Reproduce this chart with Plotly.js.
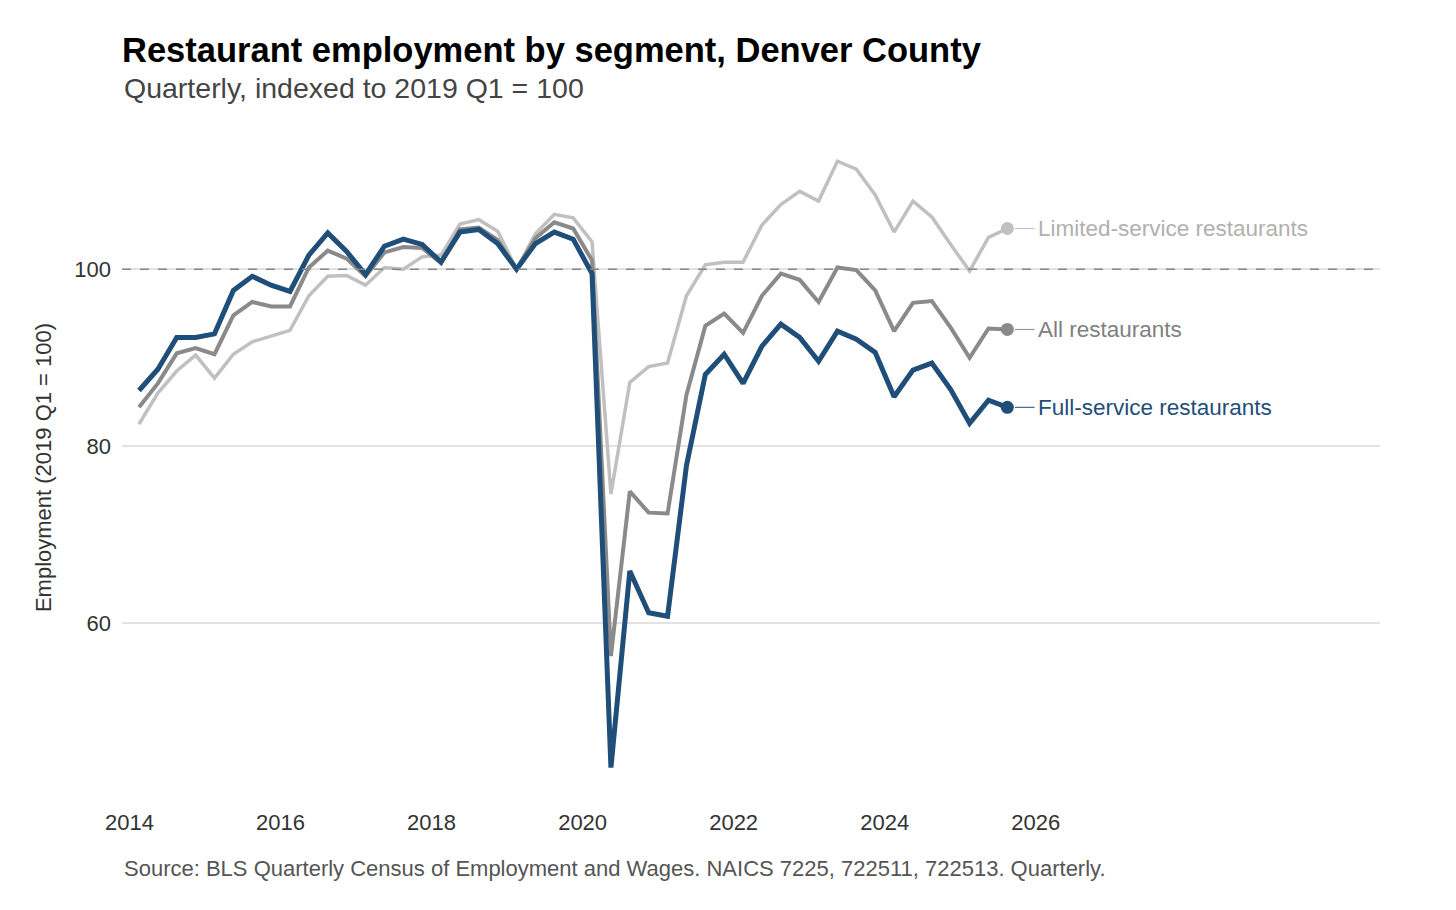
<!DOCTYPE html>
<html>
<head>
<meta charset="utf-8">
<script src="https://cdn.plot.ly/plotly-3.0.1.min.js"></script>
<style>html,body{margin:0;padding:0;background:#fff}#chart{width:1456px;height:910px}</style>
</head>
<body>
<div id="chart"></div>
<script>
// quarters from 2014 Q1 to 2025 Q3, plotted at mid-quarter
var startYear = 2014;
var nQuarters = 47;

var fullService = [86.3, 88.7, 92.3, 92.3, 92.7, 97.6, 99.2, 98.2, 97.5, 101.6, 104.1, 102.0,
  99.4, 102.6, 103.4, 102.8, 100.8, 104.2, 104.5, 102.9, 100.0, 102.9, 104.2, 103.4,
  99.5, 43.7, 65.9, 61.2, 60.8, 77.8, 88.1, 90.4, 87.1, 91.3, 93.8, 92.3,
  89.6, 93.0, 92.1, 90.6, 85.6, 88.6, 89.4, 86.4, 82.6, 85.2, 84.4];
var allRest = [84.4, 87.1, 90.5, 91.1, 90.4, 94.8, 96.3, 95.8, 95.8, 100.2, 102.1, 101.2,
  99.2, 101.9, 102.5, 102.4, 100.7, 104.5, 104.7, 103.3, 100.0, 103.5, 105.3, 104.6,
  101.0, 56.3, 74.9, 72.5, 72.4, 85.8, 93.6, 95.0, 92.8, 97.0, 99.5, 98.8,
  96.3, 100.2, 99.9, 97.6, 93.0, 96.2, 96.4, 93.4, 90.0, 93.3, 93.2];
var limitedService = [82.5, 86.0, 88.5, 90.3, 87.7, 90.4, 91.8, 92.5, 93.1, 97.0, 99.2, 99.3,
  98.2, 100.2, 100.0, 101.4, 101.6, 105.1, 105.6, 104.3, 100.0, 104.0, 106.2, 105.8,
  103.1, 74.6, 87.2, 89.0, 89.4, 97.0, 100.5, 100.8, 100.8, 105.0, 107.3, 108.8,
  107.7, 112.2, 111.3, 108.4, 104.2, 107.7, 105.9, 102.8, 99.8, 103.6, 104.6];

var seriesNames = ["Limited-service restaurants", "All restaurants", "Full-service restaurants"];
var seriesColors = ["#c0c0c0", "#8a8a8a", "#1f4e79"];
var labelColors = ["#b0b0b0", "#808080", "#1f4e79"];
var seriesWidths = [3.5, 4, 5];
var seriesData = [limitedService, allRest, fullService];

var x = [];
for (var i = 0; i < nQuarters; i++) x.push(startYear + i * 0.25 + 0.125);
var lastX = x[x.length - 1];

var traces = [];
var annotations = [];
var shapes = [{type: "line", xref: "paper", x0: 0, x1: 1, yref: "y", y0: 100, y1: 100,
  line: {color: "#888", width: 1.5, dash: "dash"}}];

seriesData.forEach(function (vals, k) {
  traces.push({x: x, y: vals, type: "scatter", mode: "lines", name: seriesNames[k],
    line: {color: seriesColors[k], width: seriesWidths[k]}, hoverinfo: "skip"});
  var lastY = vals[vals.length - 1];
  traces.push({x: [lastX], y: [lastY], type: "scatter", mode: "markers",
    marker: {color: seriesColors[k], size: 13}, hoverinfo: "skip"});
  shapes.push({type: "line", xref: "x", yref: "y", x0: lastX + 0.1, x1: lastX + 0.36,
    y0: lastY, y1: lastY, line: {color: seriesColors[k], width: 1}});
  annotations.push({x: lastX + 0.38, y: lastY, xref: "x", yref: "y", xanchor: "left",
    text: seriesNames[k], showarrow: false, font: {size: 22.5, color: labelColors[k]}});
});

annotations.push({xref: "paper", yref: "paper", x: 0, y: -0.09, xanchor: "left", yanchor: "top",
  text: "Source: BLS Quarterly Census of Employment and Wages. NAICS 7225, 722511, 722513. Quarterly.",
  showarrow: false, font: {size: 22, color: "#555"}});
annotations.push({xref: "paper", yref: "paper", x: 0, y: 1.052, xanchor: "left", yanchor: "bottom",
  text: "Quarterly, indexed to 2019 Q1 = 100", showarrow: false, font: {size: 28.5, color: "#444"}});

var layout = {
  width: 1456, height: 910,
  margin: {l: 122, r: 76, t: 140, b: 115},
  paper_bgcolor: "#fff", plot_bgcolor: "#fff",
  font: {family: "Liberation Sans, Arial, sans-serif", color: "#333"},
  showlegend: false,
  title: {text: "<b>Restaurant employment by segment, Denver County</b>", x: 0, xref: "paper",
    xanchor: "left", y: 0.945, yanchor: "middle", font: {size: 34.5, color: "#000"}},
  xaxis: {range: [2013.9, 2030.56], tickvals: [2014, 2016, 2018, 2020, 2022, 2024, 2026],
    showgrid: false, zeroline: false, showline: false, ticks: "", ticklabelstandoff: 12,
    tickfont: {size: 22, color: "#333"}},
  yaxis: {range: [40.6, 114.6], tickvals: [60, 80, 100], showgrid: true, gridcolor: "#e2e2e2",
    gridwidth: 2, zeroline: false, showline: false, ticks: "", ticklabelstandoff: 10,
    tickfont: {size: 22, color: "#333"},
    title: {text: "Employment (2019 Q1 = 100)", font: {size: 22, color: "#333"}, standoff: 16}},
  shapes: shapes,
  annotations: annotations
};

Plotly.newPlot("chart", traces, layout, {staticPlot: true});
</script>
</body>
</html>
